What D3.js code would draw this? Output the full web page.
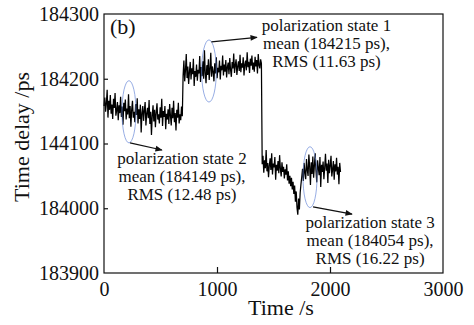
<!DOCTYPE html>
<html>
<head>
<meta charset="utf-8">
<script src="https://cdn.jsdelivr.net/npm/d3@7"></script>
<style>
  body { margin: 0; background: #fff; }
</style>
</head>
<body>
<div id="chart"></div>
<script>
// axis ticks (the 144100 label is printed that way in the original figure)
const xTicks = [0, 1000, 2000, 3000];
const yTicks = [183900, 184000, 184100, 184200, 184300];
const yTickLabels = ["183900", "184000", "144100", "184200", "184300"];

// measurement segments: start time (s) and sampling interval (s)
const segmentStarts = [0, 700, 1400];
const sampleStep = 7;

// time delay readings (ps)
const state2Delay = [
  184158, 184171, 184149, 184162, 184183, 184140, 184166, 184152, 184175, 184146,
  184160, 184138, 184169, 184155, 184178, 184143, 184151, 184164, 184136, 184159,
  184147, 184172, 184141, 184157, 184129, 184163, 184150, 184168, 184137, 184154,
  184145, 184176, 184139, 184158, 184126, 184152, 184166, 184140, 184149, 184133,
  184161, 184144, 184170, 184131, 184153, 184138, 184160, 184117, 184147, 184158,
  184135, 184151, 184164, 184128, 184146, 184155, 184139, 184167, 184130, 184149,
  184113, 184143, 184159, 184134, 184152, 184125, 184148, 184162, 184137, 184145,
  184131, 184156, 184140, 184169, 184127, 184150, 184141, 184158, 184122, 184146,
  184137, 184153, 184130, 184161, 184143, 184128, 184155, 184139, 184166, 184133,
  184147, 184120, 184152, 184140, 184163, 184131, 184145, 184136, 184157, 184142
];
const state1Delay = [
  184205, 184228, 184196, 184213, 184238, 184201, 184219, 184192, 184210, 184226,
  184199, 184216, 184207, 184231, 184189, 184212, 184203, 184222, 184197, 184214,
  184208, 184235, 184195, 184218, 184204, 184227, 184200, 184244, 184209, 184193,
  184221, 184206, 184230, 184198, 184215, 184240, 184203, 184219, 184211, 184196,
  184224, 184208, 184233, 184201, 184217, 184210, 184228, 184199, 184220, 184213,
  184236, 184205, 184222, 184211, 184229, 184202, 184218, 184225, 184207, 184232,
  184214, 184203, 184226, 184216, 184239, 184209, 184221, 184230, 184206, 184219,
  184227, 184212, 184237, 184210, 184224, 184217, 184233, 184205, 184222, 184228,
  184213, 184241, 184218, 184226, 184209, 184231, 184220, 184236, 184214, 184225,
  184211, 184234, 184219, 184229, 184208, 184238, 184221, 184216, 184230, 184224
];
const state3Delay = [
  184068, 184081, 184055, 184074, 184062, 184090, 184057, 184070, 184048, 184066,
  184077, 184059, 184085, 184052, 184069, 184063, 184079, 184044, 184067, 184058,
  184073, 184054, 184082, 184061, 184049, 184071, 184056, 184064, 184046, 184060,
  184052, 184068, 184043, 184057, 184038, 184050, 184034, 184047, 184029, 184041,
  184022, 184035, 184010, 184026, 184001, 183990, 184015, 183998, 184024, 184037,
  184048, 184061, 184042, 184070, 184055, 184045, 184076, 184059, 184050, 184083,
  184064, 184036, 184071, 184053, 184080, 184047, 184066, 184085, 184058, 184040,
  184074, 184062, 184051, 184079, 184033, 184067, 184056, 184072, 184045, 184063,
  184084, 184058, 184069, 184039, 184075, 184054, 184066, 184081, 184049, 184060,
  184073, 184044, 184068, 184057, 184078, 184052, 184064, 184037, 184070, 184056
];

const stateLabels = [
  ["polarization state 1", "mean (184215 ps),", "RMS (11.63 ps)"],
  ["polarization state 2", "mean (184149 ps),", "RMS (12.48 ps)"],
  ["polarization state 3", "mean (184054 ps),", "RMS (16.22 ps)"]
];

const width = 474, height = 325;
const dim = { left: 104, top: 14, width: 339, height: 259 };
const serif = "Liberation Serif";

const svg = d3.select("#chart").append("svg")
  .attr("width", width)
  .attr("height", height)
  .attr("font-family", serif);

const bounds = svg.append("g")
  .attr("transform", `translate(${dim.left},${dim.top})`);

const xScale = d3.scaleLinear().domain([0, 3000]).range([0, dim.width]);
const yScale = d3.scaleLinear().domain([183900, 184300]).range([dim.height, 0]);

// build the series from the three segments
const dataset = [];
[state2Delay, state1Delay, state3Delay].forEach((arr, k) => {
  arr.forEach((v, i) => dataset.push({ t: segmentStarts[k] + i * sampleStep, v: v }));
});

const lineGenerator = d3.line()
  .x(d => xScale(d.t))
  .y(d => yScale(d.v));

bounds.append("path")
  .attr("d", lineGenerator(dataset))
  .attr("fill", "none")
  .attr("stroke", "#000")
  .attr("stroke-width", 1.25);

// frame
bounds.append("rect")
  .attr("width", dim.width)
  .attr("height", dim.height)
  .attr("fill", "none")
  .attr("stroke", "#111")
  .attr("stroke-width", 1.2);

// axes, ticks pointing inward
const xAxis = bounds.append("g")
  .attr("transform", `translate(0,${dim.height})`)
  .call(d3.axisBottom(xScale).tickValues(xTicks).tickSizeInner(-6).tickSizeOuter(0).tickPadding(9).tickFormat(d3.format("d")));
const yAxis = bounds.append("g")
  .call(d3.axisLeft(yScale).tickValues(yTicks).tickSizeInner(-4).tickSizeOuter(0).tickPadding(5)
    .tickFormat((d, i) => yTickLabels[i]));

[xAxis, yAxis].forEach(ax => {
  ax.attr("font-family", serif).attr("font-size", 20);
  ax.select(".domain").remove();
  ax.selectAll(".tick line").attr("stroke", "#111").attr("stroke-width", 1.2);
  ax.selectAll("text").attr("fill", "#111");
});
xAxis.selectAll(".tick:first-child line, .tick:last-child line").remove();
yAxis.selectAll(".tick:first-child line, .tick:last-child line").remove();

// axis titles
svg.append("text")
  .attr("x", 281).attr("y", 315)
  .attr("text-anchor", "middle")
  .attr("font-size", 22)
  .attr("fill", "#111")
  .text("Time /s");
svg.append("text")
  .attr("transform", "translate(29,137) rotate(-90)")
  .attr("text-anchor", "middle")
  .attr("font-size", 22)
  .attr("fill", "#111")
  .text("Time delay /ps");

bounds.append("text")
  .attr("x", 6).attr("y", 20)
  .attr("font-size", 22)
  .attr("fill", "#111")
  .text("(b)");

// annotations: ellipse around a region, arrow, and text block
const annotations = [
  { ellipse: [929, 184212, 65, 48], arrow: [[950, 184257], [1354, 184264]], text: [1969, 184273] },
  { ellipse: [221, 184149, 62, 48], arrow: [[230, 184101], [513, 184090]], text: [690, 184068] },
  { ellipse: [1823, 184048, 62, 47], arrow: [[1850, 184002], [2195, 183991]], text: [2355, 183969] }
];

svg.append("defs").append("marker")
  .attr("id", "arrow")
  .attr("viewBox", "0 0 10 10")
  .attr("refX", 9).attr("refY", 5)
  .attr("markerWidth", 7).attr("markerHeight", 6)
  .attr("orient", "auto")
  .append("path")
  .attr("d", "M0,1 L10,5 L0,9 Z")
  .attr("fill", "#111");

annotations.forEach((a, k) => {
  const [et, ev, rt, rv] = a.ellipse;
  bounds.append("ellipse")
    .attr("cx", xScale(et)).attr("cy", yScale(ev))
    .attr("rx", xScale(rt) - xScale(0))
    .attr("ry", yScale(184300 - rv) - yScale(184300))
    .attr("fill", "none")
    .attr("stroke", "#6a8ad8")
    .attr("stroke-width", 0.7);

  bounds.append("line")
    .attr("x1", xScale(a.arrow[0][0])).attr("y1", yScale(a.arrow[0][1]))
    .attr("x2", xScale(a.arrow[1][0])).attr("y2", yScale(a.arrow[1][1]))
    .attr("stroke", "#111")
    .attr("stroke-width", 1.2)
    .attr("marker-end", "url(#arrow)");

  const t = bounds.append("text")
    .attr("text-anchor", "middle")
    .attr("font-size", 17)
    .attr("fill", "#111");
  stateLabels[k].forEach((line, i) => {
    t.append("tspan")
      .attr("x", xScale(a.text[0]))
      .attr("y", yScale(a.text[1]) + i * 18)
      .text(line);
  });
});
</script>
</body>
</html>
